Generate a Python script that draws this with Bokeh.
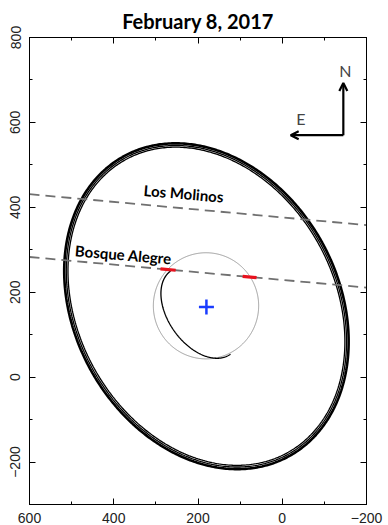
import numpy as np
from bokeh.plotting import figure
from bokeh.models import (Range1d, SingleIntervalTicker, LinearAxis, Arrow, OpenHead,
                          Label, CustomJSTickFormatter)
from bokeh.embed import file_html
from bokeh.resources import INLINE
from bokeh.core.properties import value

# ---------------- data ----------------
title_text = "February 8, 2017"
x_limits = [600, -200]
y_limits = [-300, 800]
tick_interval = 200

# limb fit (outer ring) : center, semi-axes, position angle (deg)
ell_center = [180, 167]
ell_semi_major = [404, 399, 395]
ell_semi_minor = [313, 308, 304]
ell_angle_deg = 60.3

# body circle
circ_center = [181, 168]
circ_radius = 125

# crescent arc (partial ellipse)
arc_center = [194, 152]
arc_axes = [121, 76]
arc_angle_deg = 54

# chords (dashed), sampled at plot edges
chord_x = [600, -200]
chord_bosque_y = [283, 211]
chord_molinos_y = [431, 358]
chord_names = ["Los Molinos", "Bosque Alegre"]
chord_label_x = [234, 377]
chord_label_y = [433, 289]

# timing error bars on Bosque Alegre chord
red_left_x = [289, 253]
red_right_x = [94, 61]

# centre
centre_x = [180]
centre_y = [165]

# compass
compass_corner = [-145, 570]
compass_len = [123, 125]

# ---------------- figure ----------------
p = figure(width=388, height=525, output_backend="svg", toolbar_location=None,
           x_range=Range1d(*x_limits), y_range=Range1d(*y_limits),
           min_border_left=29, min_border_right=22, min_border_top=37, min_border_bottom=21)
p.background_fill_color = "white"
p.border_fill_color = "white"
p.outline_line_color = "black"
p.outline_line_width = 1
p.xgrid.visible = False
p.ygrid.visible = False

p.title.text = title_text
p.title.align = "center"
p.title.vertical_align = "top"
p.title.text_font = "Lato"
p.title.text_font_style = "bold"
p.title.text_font_size = "20px"
p.title.text_color = "black"
p.title.offset = 0
p.title.standoff = 6

def style_axis(ax, labels=True, standoff=7):
    ax.ticker = SingleIntervalTicker(interval=tick_interval, num_minor_ticks=2)
    ax.major_tick_in = 6
    ax.major_tick_out = 0
    ax.minor_tick_in = 3
    ax.minor_tick_out = 0
    ax.axis_line_color = "black"
    ax.major_tick_line_color = "black"
    ax.minor_tick_line_color = "black"
    ax.major_label_text_font = "Liberation Sans"
    ax.major_label_text_font_size = "14px"
    ax.major_label_text_color = "#222222"
    if labels:
        ax.major_label_standoff = standoff
        ax.major_label_overrides = {-200: "\u2212200"}
    else:
        ax.major_label_standoff = 0
        ax.formatter = CustomJSTickFormatter(code="return ''")

style_axis(p.xaxis[0], standoff=8)
style_axis(p.yaxis[0], standoff=9)
p.yaxis[0].major_label_orientation = "vertical"

top_ax = LinearAxis()
style_axis(top_ax, labels=False)
right_ax = LinearAxis()
style_axis(right_ax, labels=False)
p.add_layout(top_ax, "above")
p.add_layout(right_ax, "right")

def ellipse_pts(c, a, b, ang_deg, t):
    phi = np.radians(ang_deg)
    x = c[0] + a * np.cos(t) * np.cos(phi) - b * np.sin(t) * np.sin(phi)
    y = c[1] + a * np.cos(t) * np.sin(phi) + b * np.sin(t) * np.cos(phi)
    return x, y

t = np.linspace(0, 2 * np.pi, 500)
widths = [2.6, 1.3, 1.3]
for a, b, w in zip(ell_semi_major, ell_semi_minor, widths):
    ex, ey = ellipse_pts(ell_center, a, b, ell_angle_deg, t)
    p.line(ex, ey, line_color="black", line_width=w)

# body circle
cx = circ_center[0] + circ_radius * np.cos(t)
cy = circ_center[1] + circ_radius * np.sin(t)
p.line(cx, cy, line_color="#9a9a9a", line_width=1)

# crescent arc
ta = np.linspace(np.pi, 2 * np.pi, 200)
ax_, ay_ = ellipse_pts(arc_center, arc_axes[0], arc_axes[1], arc_angle_deg, ta)
p.line(ax_, ay_, line_color="black", line_width=1.3)

# chords
for ys in (chord_bosque_y, chord_molinos_y):
    p.line(chord_x, ys, line_color="#707070", line_width=1.8, line_dash="10 6")

for name, lx, ly in zip(chord_names, chord_label_x, chord_label_y):
    p.text(x=[lx], y=[ly], text=[name], text_font=value("Lato"), text_font_style="bold",
           text_font_size="15px", text_align="center", text_baseline="middle",
           angle=-0.085, text_color="black")

# red error bars along Bosque Alegre chord
xc = np.array(chord_x[::-1], dtype=float)
yc = np.array(chord_bosque_y[::-1], dtype=float)
for seg in (red_left_x, red_right_x):
    sx = np.array(seg, dtype=float)
    sy = np.interp(sx, xc, yc)
    p.line(sx, sy, line_color="#e8121e", line_width=3.2)

# centre
p.scatter(centre_x, centre_y, marker="cross", size=15, line_color="#1a3cff", line_width=2.5)

# compass
cxn, cyn = compass_corner
p.add_layout(Arrow(x_start=cxn, y_start=cyn, x_end=cxn, y_end=cyn + compass_len[0],
                   line_width=2.2, line_color="black",
                   end=OpenHead(size=8, line_width=2.2, line_color="black")))
p.add_layout(Arrow(x_start=cxn, y_start=cyn, x_end=cxn + compass_len[1], y_end=cyn,
                   line_width=2.2, line_color="black",
                   end=OpenHead(size=8, line_width=2.2, line_color="black")))
p.add_layout(Label(x=cxn - 5, y=cyn + compass_len[0] + 30, text="N", text_font="Lato",
                   text_font_size="16px", text_align="center", text_baseline="middle"))
p.add_layout(Label(x=cxn + compass_len[1] - 24, y=cyn + 40, text="E", text_font="Lato",
                   text_font_size="16px", text_align="center", text_baseline="middle"))

open("out.html", "w").write(file_html(p, INLINE))
